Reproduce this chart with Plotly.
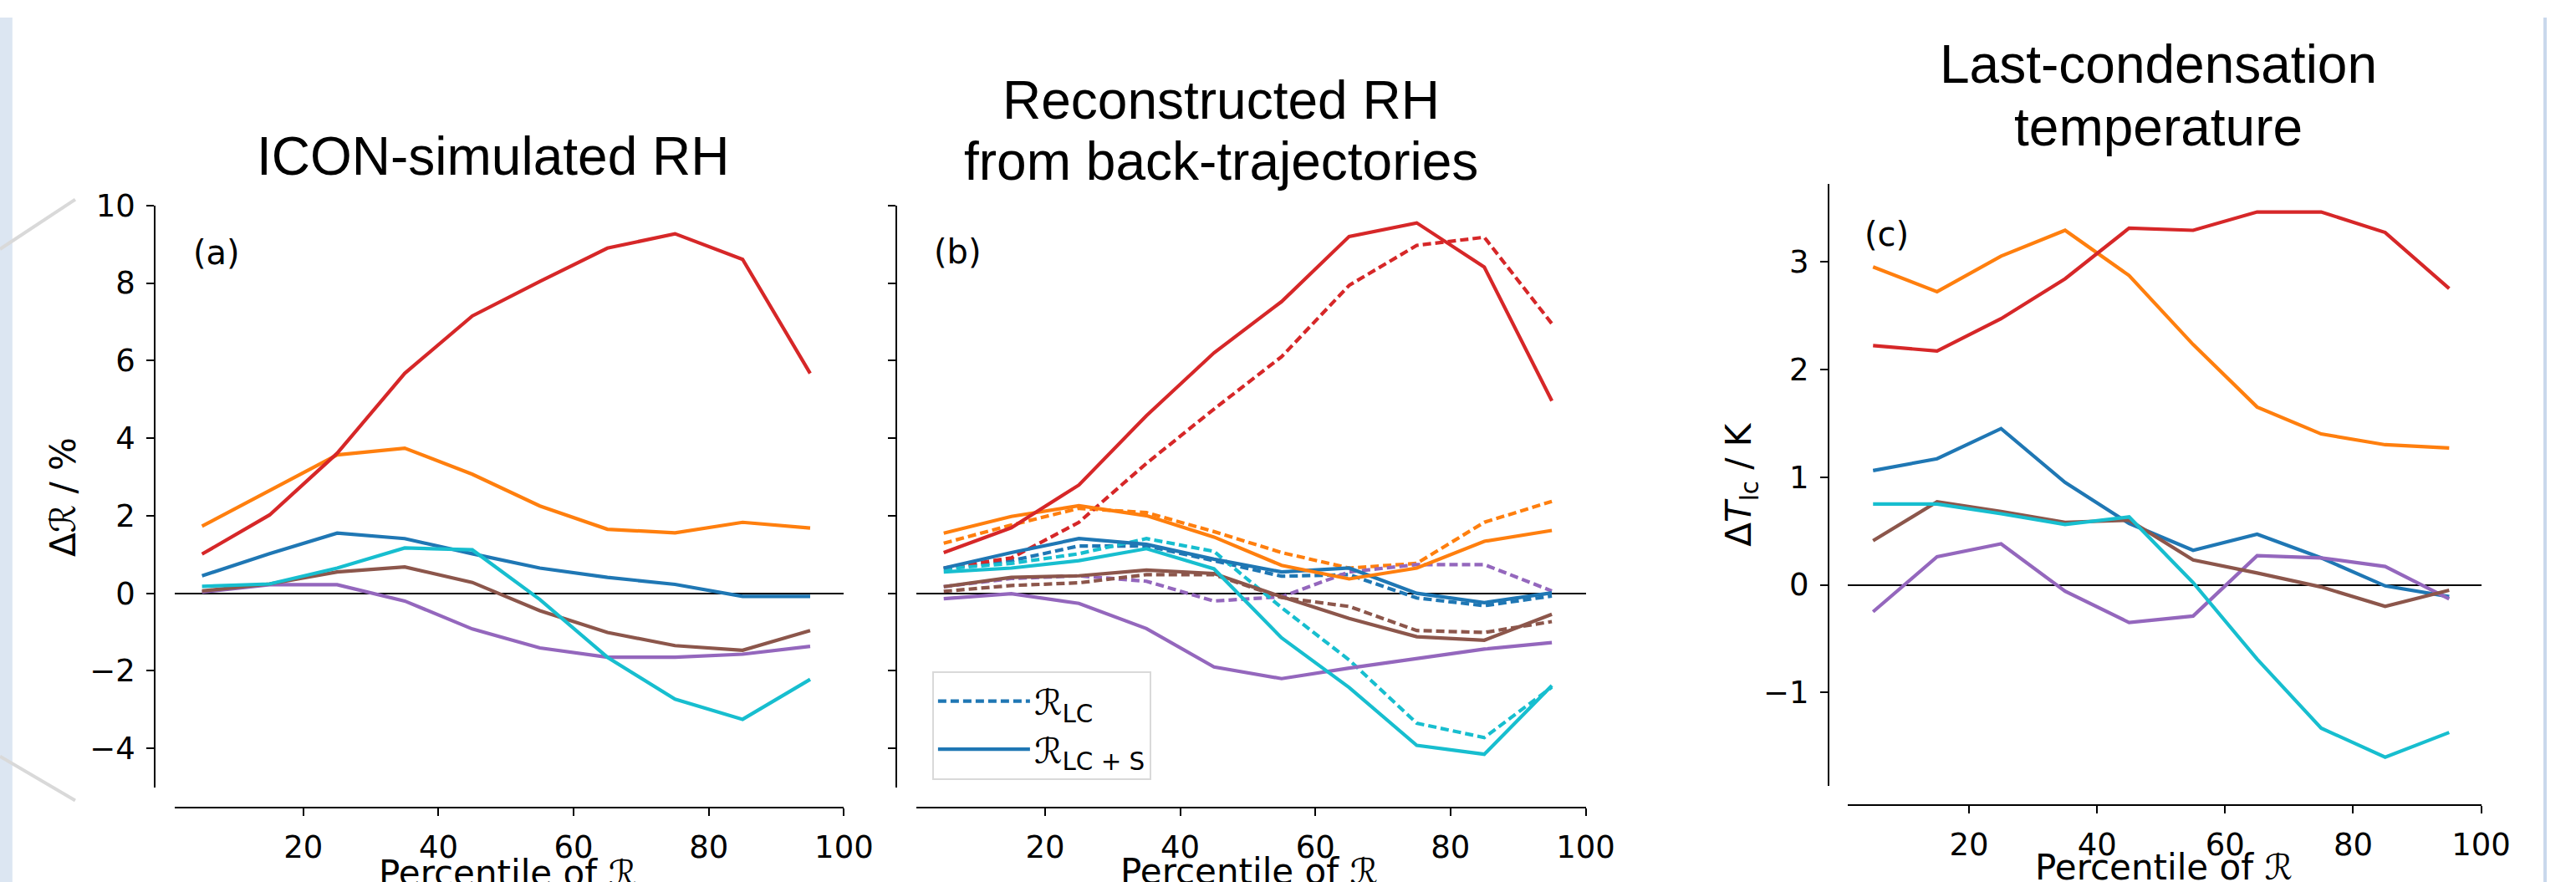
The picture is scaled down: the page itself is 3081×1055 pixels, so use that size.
import plotly.graph_objects as go

# ---------------- data ----------------
percentile = [5, 15, 25, 35, 45, 55, 65, 75, 85, 95]

# (a) ICON-simulated RH change, %
a_blue   = [0.45, 1.02, 1.55, 1.41, 1.02, 0.65, 0.41, 0.23, -0.08, -0.08]
a_orange = [1.73, 2.66, 3.57, 3.74, 3.07, 2.25, 1.65, 1.56, 1.83, 1.68]
a_red    = [1.01, 2.02, 3.61, 5.67, 7.15, 8.04, 8.90, 9.27, 8.61, 5.67]
a_purple = [0.03, 0.22, 0.22, -0.20, -0.92, -1.41, -1.65, -1.65, -1.57, -1.37]
a_brown  = [0.06, 0.24, 0.55, 0.68, 0.28, -0.45, -1.01, -1.35, -1.47, -0.96]
a_cyan   = [0.18, 0.24, 0.65, 1.17, 1.12, -0.16, -1.65, -2.73, -3.25, -2.22]

# (b) reconstructed RH, R_LC (dashed)
b_lc_blue   = [0.63, 0.84, 1.22, 1.22, 0.84, 0.44, 0.48, -0.12, -0.32, -0.07]
b_lc_orange = [1.29, 1.76, 2.19, 2.08, 1.59, 1.05, 0.65, 0.77, 1.83, 2.37]
b_lc_red    = [0.65, 0.91, 1.83, 3.35, 4.75, 6.10, 7.94, 8.97, 9.18, 6.95]
b_lc_purple = [0.17, 0.38, 0.45, 0.31, -0.20, -0.09, 0.55, 0.74, 0.74, 0.06]
b_lc_brown  = [0.05, 0.20, 0.27, 0.48, 0.48, -0.11, -0.34, -0.96, -1.01, -0.73]
b_lc_cyan   = [0.63, 0.77, 1.02, 1.41, 1.08, -0.37, -1.72, -3.35, -3.72, -2.42]

# (b) reconstructed RH, R_LC+S (solid)
b_lcs_blue   = [0.65, 1.05, 1.41, 1.26, 0.88, 0.55, 0.65, 0.00, -0.24, 0.01]
b_lcs_orange = [1.55, 1.98, 2.26, 2.00, 1.45, 0.72, 0.37, 0.65, 1.34, 1.62]
b_lcs_red    = [1.05, 1.69, 2.79, 4.58, 6.20, 7.52, 9.20, 9.55, 8.41, 4.96]
b_lcs_purple = [-0.14, -0.01, -0.26, -0.91, -1.90, -2.20, -1.93, -1.69, -1.44, -1.27]
b_lcs_brown  = [0.17, 0.41, 0.45, 0.60, 0.51, -0.09, -0.65, -1.12, -1.21, -0.54]
b_lcs_cyan   = [0.55, 0.65, 0.84, 1.15, 0.63, -1.15, -2.43, -3.92, -4.15, -2.38]

# (c) last-condensation temperature change, K
c_blue   = [1.06, 1.17, 1.45, 0.95, 0.57, 0.32, 0.47, 0.25, -0.01, -0.11]
c_orange = [2.95, 2.72, 3.05, 3.29, 2.87, 2.23, 1.65, 1.40, 1.30, 1.27]
c_red    = [2.22, 2.17, 2.47, 2.84, 3.31, 3.29, 3.46, 3.46, 3.27, 2.75]
c_purple = [-0.25, 0.26, 0.38, -0.06, -0.35, -0.29, 0.27, 0.25, 0.17, -0.13]
c_brown  = [0.41, 0.77, 0.68, 0.58, 0.60, 0.23, 0.11, -0.02, -0.20, -0.05]
c_cyan   = [0.75, 0.75, 0.66, 0.56, 0.63, 0.02, -0.69, -1.33, -1.60, -1.37]

x_ticks = [20, 40, 60, 80, 100]
titles = {
    "a": ["ICON-simulated RH"],
    "b": ["Reconstructed RH", "from back-trajectories"],
    "c": ["Last-condensation", "temperature"],
}
panel_labels = ["(a)", "(b)", "(c)"]
x_title = "Percentile of ℛ"
y_title_rh = "Δℛ / %"
y_title_t = "Δ<i>T</i><sub>lc</sub> / K"
legend_lc = "ℛ<sub>LC</sub>"
legend_lcs = "ℛ<sub>LC + S</sub>"

# ---------------- styling ----------------
W, H = 3081, 1055
COLORS = {"blue": "#1f77b4", "orange": "#ff7f0e", "red": "#d62728",
          "purple": "#9467bd", "brown": "#8c564b", "cyan": "#17becf"}
ORDER = ["blue", "orange", "red", "purple", "brown", "cyan"]
LW = 4.2
DASH = "10px,5px"
TICK_FONT = dict(family="DejaVu Sans", size=37, color="black")
LABEL_FONT = dict(family="DejaVu Sans", size=42, color="black")
TITLE_FONT = dict(family="Liberation Sans, Arial", size=64, color="black")


def px(x):
    return x / W


def py(y):
    return 1 - y / H


fig = go.Figure()

series_a = dict(blue=a_blue, orange=a_orange, red=a_red, purple=a_purple, brown=a_brown, cyan=a_cyan)
series_b_lc = dict(blue=b_lc_blue, orange=b_lc_orange, red=b_lc_red, purple=b_lc_purple, brown=b_lc_brown, cyan=b_lc_cyan)
series_b_lcs = dict(blue=b_lcs_blue, orange=b_lcs_orange, red=b_lcs_red, purple=b_lcs_purple, brown=b_lcs_brown, cyan=b_lcs_cyan)
series_c = dict(blue=c_blue, orange=c_orange, red=c_red, purple=c_purple, brown=c_brown, cyan=c_cyan)

for k in ORDER:
    fig.add_trace(go.Scatter(x=percentile, y=series_a[k], mode="lines", xaxis="x", yaxis="y",
                             line=dict(color=COLORS[k], width=LW), showlegend=False, name=k))
for k in ORDER:
    fig.add_trace(go.Scatter(x=percentile, y=series_b_lc[k], mode="lines", xaxis="x2", yaxis="y2",
                             line=dict(color=COLORS[k], width=LW, dash=DASH),
                             showlegend=(k == "blue"), name=legend_lc if k == "blue" else k,
                             legendrank=1))
for k in ORDER:
    fig.add_trace(go.Scatter(x=percentile, y=series_b_lcs[k], mode="lines", xaxis="x2", yaxis="y2",
                             line=dict(color=COLORS[k], width=LW),
                             showlegend=(k == "blue"), name=legend_lcs if k == "blue" else k,
                             legendrank=2))
for k in ORDER:
    fig.add_trace(go.Scatter(x=percentile, y=series_c[k], mode="lines", xaxis="x3", yaxis="y3",
                             line=dict(color=COLORS[k], width=LW), showlegend=False, name=k))

common_axis = dict(showline=True, linecolor="black", linewidth=2, ticks="outside", ticklen=9,
                   tickwidth=2, tickcolor="black", showgrid=False, tickfont=TICK_FONT,
                   anchor="free", ticklabelstandoff=6)

xcommon = dict(common_axis, range=[1, 100], tickvals=x_ticks, zeroline=False)

layout_axes = dict(
    xaxis=dict(xcommon, domain=[px(211.7), px(1021)], position=py(964)),
    xaxis2=dict(xcommon, domain=[px(1109), px(1918.3)], position=py(964)),
    xaxis3=dict(xcommon, domain=[px(2235), px(3001.7)], position=py(961)),
    yaxis=dict(common_axis, domain=[py(939.3), py(229.3)], range=[-5, 10], dtick=2, tick0=0,
               position=px(187.3), zeroline=True, zerolinecolor="black", zerolinewidth=1.7),
    yaxis2=dict(common_axis, domain=[py(939.3), py(229.3)], range=[-5, 10], dtick=2, tick0=0,
                position=px(1084), zeroline=True, zerolinecolor="black", zerolinewidth=1.7,
                showticklabels=False),
    yaxis3=dict(common_axis, domain=[py(937.3), py(202.7)], range=[-1.863, 3.723], dtick=1, tick0=0,
                position=px(2212), zeroline=True, zerolinecolor="black", zerolinewidth=1.7),
)

annotations = []
# titles, one annotation per line
title_pos = {"a": (596, [169.4]), "b": (1477, [100.6, 176]), "c": (2611.6, [57, 133.6])}
for key, lines in titles.items():
    cx, ys = title_pos[key]
    for txt, yy in zip(lines, ys):
        annotations.append(dict(text=txt, x=px(cx), y=py(yy), xref="paper", yref="paper",
                                xanchor="center", yanchor="middle", showarrow=False, font=TITLE_FONT))
# panel labels
for lab, (lx, ly) in zip(panel_labels, [(231.7, 287), (1127.8, 286), (2254, 264)]):
    annotations.append(dict(text=lab, x=px(lx), y=py(ly), xref="paper", yref="paper",
                            xanchor="left", yanchor="middle", showarrow=False,
                            font=dict(family="DejaVu Sans", size=40, color="black")))
# y-axis titles (rotated)
for txt, (tx, ty) in [(y_title_rh, (77, 585.6)), (y_title_t, (2107, 570))]:
    annotations.append(dict(text=txt, x=px(tx), y=py(ty), xref="paper", yref="paper",
                            xanchor="center", yanchor="middle", textangle=-90, showarrow=False,
                            font=LABEL_FONT))
# x-axis titles (partly cut by the bottom edge, as in the reference)
for tx, ty in [(614, 1044), (1511, 1042), (2618, 1037)]:
    annotations.append(dict(text=x_title, x=px(tx), y=py(ty), xref="paper", yref="paper",
                            xanchor="center", yanchor="middle", showarrow=False,
                            font=LABEL_FONT))

shapes = [
    dict(type="rect", xref="paper", yref="paper", x0=0, x1=px(15), y0=0, y1=1,
         fillcolor="#dce6f2", line=dict(width=0), layer="below"),
    dict(type="rect", xref="paper", yref="paper", x0=px(3077), x1=1, y0=0, y1=1,
         fillcolor="#c9d8ec", line=dict(width=0), layer="below"),
    dict(type="line", xref="paper", yref="paper", x0=0, y0=py(282.6), x1=px(91), y1=py(222),
         line=dict(color="#d9d9d9", width=4), layer="below"),
    dict(type="line", xref="paper", yref="paper", x0=0, y0=py(901.7), x1=px(91), y1=py(955.6),
         line=dict(color="#d9d9d9", width=4), layer="below"),
]

fig.update_layout(
    width=W, height=H,
    margin=dict(l=0, r=0, t=0, b=0),
    paper_bgcolor="white", plot_bgcolor="white",
    showlegend=True,
    legend=dict(x=px(1127.7), y=py(797.7), xanchor="left", yanchor="top",
                bgcolor="white", bordercolor="#d9d9d9", borderwidth=2,
                font=dict(family="DejaVu Sans", size=42, color="black"),
                itemwidth=110, tracegroupgap=0),
    annotations=annotations,
    shapes=shapes,
    **layout_axes,
)

fig.write_html("out.html")
